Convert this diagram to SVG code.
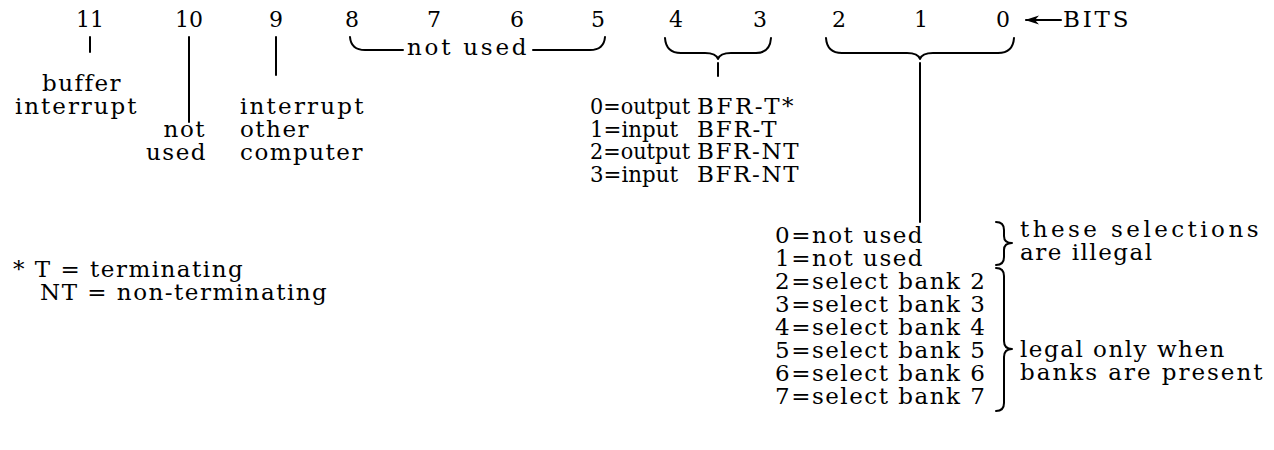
<svg xmlns="http://www.w3.org/2000/svg" width="1274" height="450" viewBox="0 0 1274 450">
<style>
text{font-family:"DejaVu Serif","Liberation Serif",serif;font-size:23px;fill:#000;letter-spacing:1.5px}
.d{font-size:22px;letter-spacing:0;text-anchor:middle}
.e{text-anchor:end}
.t{letter-spacing:0}
.ln{stroke:#000;stroke-width:2;fill:none;stroke-linecap:round;stroke-linejoin:round}
</style>
<defs>
<marker id="ah" markerWidth="14" markerHeight="10" refX="13" refY="5" orient="auto" markerUnits="userSpaceOnUse">
<path d="M14,5 L0,0.5 L4,5 L0,9.5 Z" fill="#000"/>
</marker>
</defs>
<rect width="1274" height="450" fill="#fff"/>
<g id="bits">
<text class="d" x="90" y="27">11</text>
<text class="d" x="189" y="27">10</text>
<text class="d" x="276" y="27">9</text>
<text class="d" x="352" y="27">8</text>
<text class="d" x="434" y="27">7</text>
<text class="d" x="517" y="27">6</text>
<text class="d" x="598" y="27">5</text>
<text class="d" x="676" y="27">4</text>
<text class="d" x="760" y="27">3</text>
<text class="d" x="839" y="27">2</text>
<text class="d" x="921" y="27">1</text>
<text class="d" x="1003" y="27">0</text>
<text x="1063" y="27" textLength="67" lengthAdjust="spacing">BITS</text>
</g>
<g id="connectors">
<line class="ln" x1="1061" y1="20" x2="1026" y2="20" marker-end="url(#ah)"/>
<line class="ln" x1="90" y1="37" x2="90" y2="52"/>
<line class="ln" x1="189" y1="37" x2="189" y2="122"/>
<line class="ln" x1="276" y1="37" x2="276" y2="75"/>
<path class="ln" d="M350,37 Q351,50 365,50 H403 M533,50 H590 Q604,50 605,37"/>
<path class="ln" d="M665,38 Q666,53 681,53 H705 Q716,53 718,59 Q720,53 731,53 H756 Q770,53 771,38"/>
<line class="ln" x1="718" y1="63" x2="718" y2="76"/>
<path class="ln" d="M826,38 Q827,53 842,53 H907 Q918,53 920,59 Q922,53 933,53 H998 Q1013,53 1014,38"/>
<line class="ln" x1="920" y1="63" x2="920" y2="222"/>
<path class="ln" d="M996,222 Q1004,222 1004,230 V236 Q1004,243 1012,243 Q1004,243 1004,250 V257 Q1004,265 996,265"/>
<path class="ln" d="M996,268 Q1004,268 1004,276 V341 Q1004,349 1012,349 Q1004,349 1004,357 V403 Q1004,411 996,411"/>
</g>
<g id="notused-8-5">
<text x="407" y="55" textLength="121" lengthAdjust="spacing">not used</text>
</g>
<g id="bit11">
<text x="42" y="91" textLength="80" lengthAdjust="spacing">buffer</text>
<text x="15" y="114" textLength="123" lengthAdjust="spacing">interrupt</text>
</g>
<g id="bit10">
<text class="e" x="206" y="137">not</text>
<text class="e" x="207" y="160">used</text>
</g>
<g id="bit9">
<text x="240" y="114" textLength="125" lengthAdjust="spacing">interrupt</text>
<text x="240" y="137">other</text>
<text x="240" y="160">computer</text>
</g>
<g id="bits43">
<text class="t" x="590" y="114" textLength="100" lengthAdjust="spacingAndGlyphs">0=output</text><text x="697" y="114" textLength="98" lengthAdjust="spacing">BFR-T*</text>
<text class="t" x="590" y="137" textLength="88" lengthAdjust="spacingAndGlyphs">1=input</text><text x="697" y="137" textLength="81" lengthAdjust="spacing">BFR-T</text>
<text class="t" x="590" y="159" textLength="100" lengthAdjust="spacingAndGlyphs">2=output</text><text x="697" y="159" textLength="103" lengthAdjust="spacing">BFR-NT</text>
<text class="t" x="590" y="182" textLength="88" lengthAdjust="spacingAndGlyphs">3=input</text><text x="697" y="182" textLength="103" lengthAdjust="spacing">BFR-NT</text>
</g>
<g id="bits210">
<text x="775" y="243">0=not used</text>
<text x="775" y="266">1=not used</text>
<text x="775" y="289">2=select bank 2</text>
<text x="775" y="312">3=select bank 3</text>
<text x="775" y="335">4=select bank 4</text>
<text x="775" y="358">5=select bank 5</text>
<text x="775" y="381">6=select bank 6</text>
<text x="775" y="404">7=select bank 7</text>
</g>
<g id="illegal">
<text x="1020" y="237" textLength="240" lengthAdjust="spacing">these selections</text>
<text x="1020" y="260">are illegal</text>
</g>
<g id="legal">
<text x="1020" y="357">legal only when</text>
<text x="1020" y="380" textLength="244" lengthAdjust="spacing">banks are present</text>
</g>
<g id="footnote">
<text x="13" y="277">* T = terminating</text>
<text x="40" y="300">NT = non-terminating</text>
</g>
</svg>
